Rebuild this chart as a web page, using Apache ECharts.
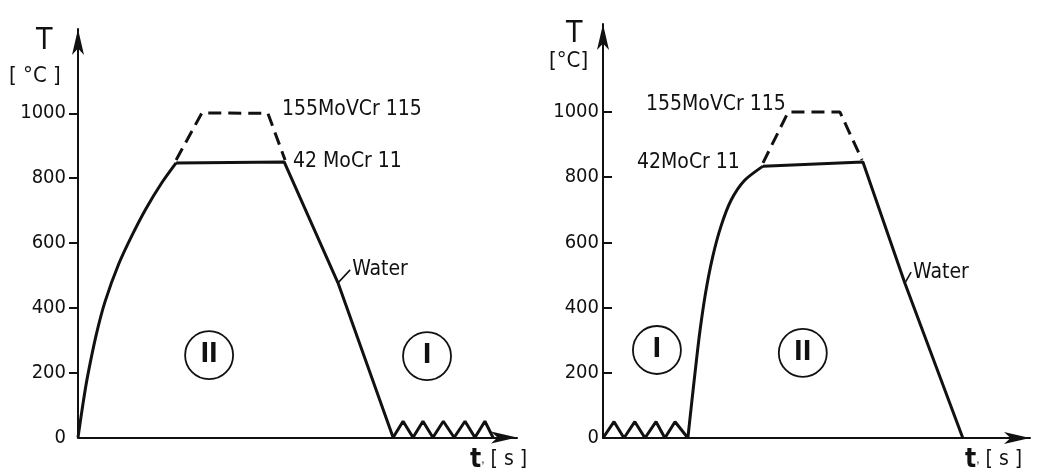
<!DOCTYPE html>
<html>
<head>
<meta charset="utf-8">
<script src="https://cdn.jsdelivr.net/npm/echarts@6/dist/echarts.min.js"></script>
<style>
  html, body { margin: 0; padding: 0; background: #fff; }
  #chart { width: 1045px; height: 472px; }
</style>
</head>
<body>
<div id="chart"></div>
<script>
// temperature axis
var tempTicks = [200, 400, 600, 800, 1000]
var tempLabels = [0, 200, 400, 600, 800, 1000]

// left diagram: [time, T]
var leftHeat = [[0, 0], [1, 95], [2, 180], [4, 315], [6, 420], [9, 535], [12, 625], [15, 705], [18.5, 785], [21.7, 847]]
var leftHoldCool = [[21.7, 847], [45.6, 850], [57.5, 477], [69.7, 0]]
var leftRipple = [[69.7, 0], [71.9, 50], [74.1, 0], [76.3, 50], [78.5, 0], [80.8, 50], [83.2, 0], [85.6, 50], [87.8, 0], [90.0, 50], [91.8, 0]]
var leftHigh = [[21.7, 856], [27.4, 1001], [42.0, 1000], [45.8, 856]]
var leftWater = [[57.5, 477], [60.2, 517]]
var leftZones = [{ name: 'II', value: [29.0, 254] }, { name: 'I', value: [77.2, 251] }]

// right diagram
var rightRipple = [[0, 0], [2.5, 50], [4.75, 0], [7.2, 50], [9.5, 0], [12.0, 50], [14.0, 0], [16.3, 50], [19.2, 0]]
var rightHeat = [[19.2, 0], [20.0, 100], [20.9, 210], [21.9, 325], [23.2, 445], [24.8, 555], [26.7, 650], [29.0, 730], [32.0, 790], [36.2, 834]]
var rightHoldCool = [[36.2, 834], [58.8, 847], [68.3, 475], [81.4, 0]]
var rightHigh = [[36.2, 844], [41.9, 1000], [53.6, 1000], [58.6, 853]]
var rightWater = [[68.3, 475], [69.7, 509]]
var rightZones = [{ name: 'I', value: [12.2, 270] }, { name: 'II', value: [45.2, 261] }]

var ink = '#111'
var font = "'DejaVu Sans Condensed', 'Liberation Sans Narrow', 'DejaVu Sans', sans-serif"

function xAxisFor (idx, max) {
  return {
    type: 'value', gridIndex: idx, min: 0, max: max,
    axisLine: { show: true, lineStyle: { color: ink, width: 2 }, symbol: ['none', 'arrow'], symbolSize: [9, 26] },
    axisTick: { show: false },
    axisLabel: { show: false },
    splitLine: { show: false }
  }
}

function yAxisFor (idx, max, inside, margin) {
  return {
    type: 'value', gridIndex: idx, min: 0, max: max,
    axisLine: { show: true, onZero: false, lineStyle: { color: ink, width: 2 }, symbol: ['none', 'arrow'], symbolSize: [9, 26] },
    axisTick: { show: true, inside: inside, length: 9, customValues: tempTicks, lineStyle: { color: ink, width: 2 } },
    axisLabel: {
      show: true, margin: margin, customValues: tempLabels, color: ink, fontSize: 20, fontFamily: font,
      formatter: function (v) { return String(v) }
    },
    splitLine: { show: false }
  }
}

function curve (data, idx, opts) {
  var s = {
    type: 'line', xAxisIndex: idx, yAxisIndex: idx, data: data,
    showSymbol: false, silent: true, animation: false,
    lineStyle: { color: ink, width: 3 }
  }
  return Object.assign(s, opts || {})
}

function zones (data, idx) {
  return {
    type: 'scatter', xAxisIndex: idx, yAxisIndex: idx, data: data,
    symbol: 'circle', symbolSize: 48, silent: true, animation: false,
    itemStyle: { color: '#fff', opacity: 1, borderColor: ink, borderWidth: 1.8 },
    label: { show: true, position: 'inside', formatter: '{b}', color: ink, fontSize: 26, fontWeight: 'bold', fontFamily: font },
    z: 5
  }
}

function water (data, idx) {
  return curve(data, idx, {
    lineStyle: { color: ink, width: 1.6 },
    endLabel: { show: true, formatter: 'Water', color: ink, fontSize: 21, fontFamily: font, distance: 2 }
  })
}

function txt (x, y, s, size, extra) {
  return Object.assign({
    type: 'text', x: x, y: y,
    style: { text: s, fill: ink, fontSize: size, fontFamily: font, textAlign: 'left', textVerticalAlign: 'middle' }
  }, extra || {})
}

var timeLabelRich = {
  t: { fontSize: 26, fontWeight: 'bold', fontFamily: font, fill: ink },
  s: { fontSize: 21, fontFamily: font, fill: ink }
}

var myChart = echarts.init(document.getElementById('chart'))
var option = {
  backgroundColor: '#fff',
  animation: false,
  grid: [
    { left: 78, top: 29, width: 439, height: 408.5 },
    { left: 603, top: 24, width: 427, height: 414 }
  ],
  xAxis: [xAxisFor(0, 97.1), xAxisFor(1, 96.6)],
  yAxis: [yAxisFor(0, 1260, false, 12), yAxisFor(1, 1270, true, 4)],
  series: [
    curve(leftHeat, 0, { smooth: 0.25 }),
    curve(leftHoldCool, 0),
    curve(leftRipple, 0),
    curve(leftHigh, 0, { lineStyle: { color: ink, width: 3, type: [13, 7] } }),
    water(leftWater, 0),
    zones(leftZones, 0),
    curve(rightRipple, 1),
    curve(rightHeat, 1, { smooth: 0.25 }),
    curve(rightHoldCool, 1),
    curve(rightHigh, 1, { lineStyle: { color: ink, width: 3, type: [13, 7] } }),
    water(rightWater, 1),
    zones(rightZones, 1)
  ],
  graphic: [
    txt(36, 41, 'T', 30),
    txt(9, 76, '[ °C ]', 22),
    txt(282, 110, '155MoVCr 115', 21),
    txt(293, 162, '42 MoCr 11', 21),
    { type: 'text', x: 470, y: 460, style: { text: '{t|t},{s| [ s ]}', rich: timeLabelRich, fill: ink, textVerticalAlign: 'middle' } },
    txt(566, 34, 'T', 30),
    txt(549, 61, '[°C]', 22),
    txt(646, 105, '155MoVCr 115', 21),
    txt(637, 163, '42MoCr 11', 21),
    { type: 'text', x: 965, y: 460, style: { text: '{t|t},{s| [ s ]}', rich: timeLabelRich, fill: ink, textVerticalAlign: 'middle' } }
  ]
}
myChart.setOption(option)
</script>
</body>
</html>
